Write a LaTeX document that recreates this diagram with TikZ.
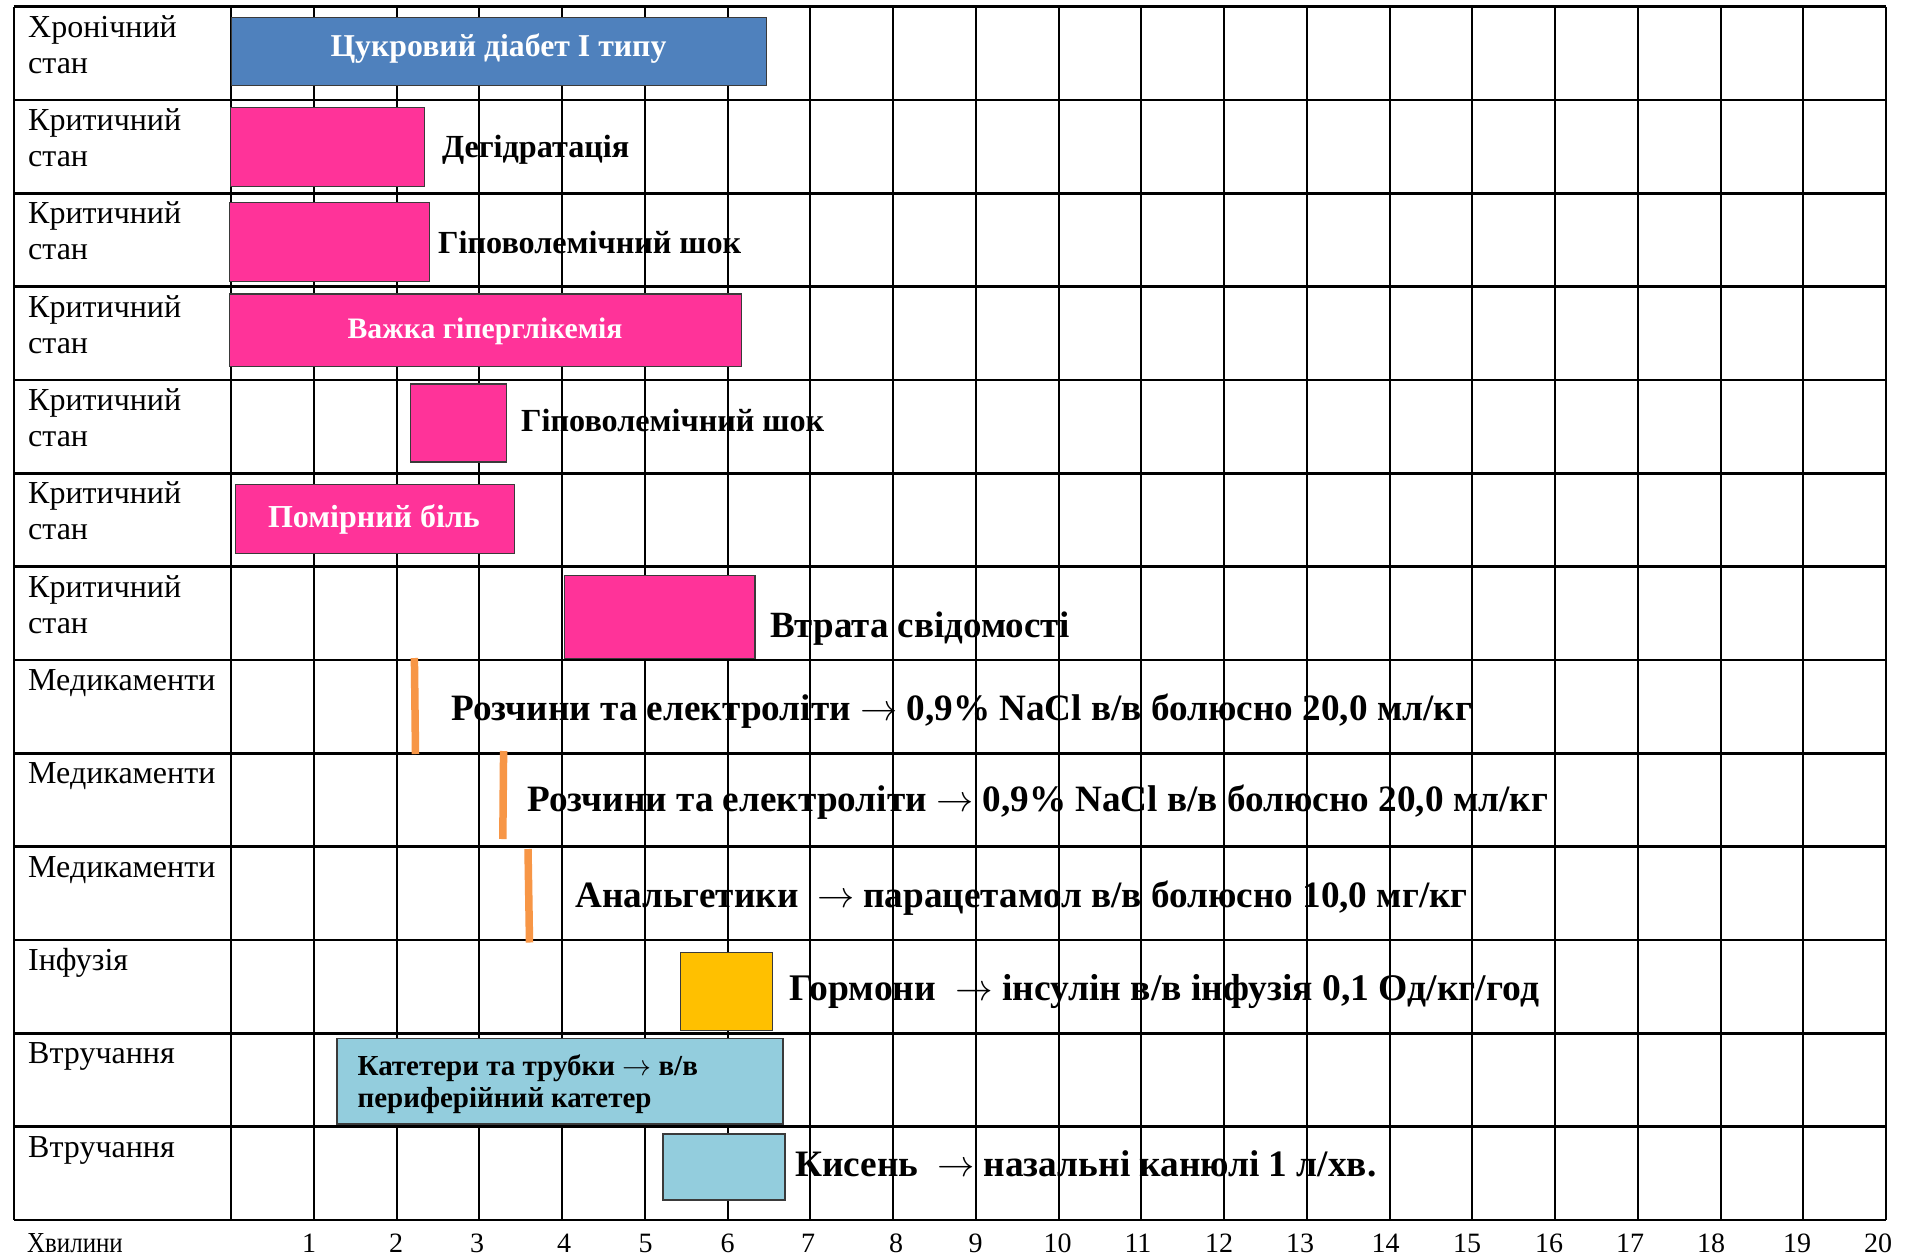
\RequirePackage{fix-cm}
\documentclass[tikz,border=0pt]{standalone}
\usepackage{fontspec}
\setmainfont{Liberation Serif}
\definecolor{pinkbar}{HTML}{FF3399}
\definecolor{bluebar}{HTML}{4F81BD}
\definecolor{yellowbar}{HTML}{FFC000}
\definecolor{lightbar}{HTML}{93CDDD}
\definecolor{orangeln}{HTML}{F79646}
\definecolor{barborder}{HTML}{3A3A3A}
\newcommand\myarr{$\rightarrow$}
\tikzset{
  hline/.style={line width=2.6pt, black},
  vline/.style={line width=2pt, black},
  bar/.style={draw=barborder, line width=1.4pt, inner sep=0pt, anchor=north west},
  lbl/.style={anchor=base west, inner sep=0pt, font=\fontsize{32}{37}\selectfont},
  rowtxt/.style={anchor=base west, inner sep=0pt, font=\fontsize{37.2}{40}\selectfont\bfseries},
  midtxt/.style={anchor=base west, inner sep=0pt, font=\fontsize{32.2}{38}\selectfont\bfseries},
  bartxt/.style={anchor=base, inner sep=0pt, text=white, font=\fontsize{31.8}{36}\selectfont\bfseries},
  axis/.style={anchor=base, inner sep=0pt, font=\fontsize{28}{34}\selectfont},
  med/.style={line width=7.5pt, orangeln}
}
\begin{document}
\begin{tikzpicture}[x=1pt,y=-1pt]
\useasboundingbox (0,0) rectangle (1917,1256);
\fill[white] (0,0) rectangle (1917,1256);
% grid
\foreach \i in {0,...,20} { \draw[vline] ({231+82.75*\i},6.5) -- ({231+82.75*\i},1220); }
\draw[vline] (13.5,6.5) -- (13.5,1220);
\foreach \j in {0,...,13} { \draw[hline] (13.5,{6.5+93.35*\j}) -- (1886,{6.5+93.35*\j}); }
% row labels
\node[lbl] (l1a) at (28,37) {Хронічний};
\node[lbl] (l1b) at (28,73) {стан};
\foreach \j/\n in {1/2,2/3,3/4,4/5,5/6,6/7} {
  \node[lbl] (l\n a) at (28,{37+93.35*\j}) {Критичний};
  \node[lbl] (l\n b) at (28,{73+93.35*\j}) {стан};
}
\node[lbl] (l8) at (28,{37+93.35*7}) {Медикаменти};
\node[lbl] (l9) at (28,{37+93.35*8}) {Медикаменти};
\node[lbl] (l10) at (28,{37+93.35*9}) {Медикаменти};
\node[lbl] (l11) at (28,{37+93.35*10}) {Інфузія};
\node[lbl] (l12) at (28,{37+93.35*11}) {Втручання};
\node[lbl] (l13) at (28,{37+93.35*12}) {Втручання};
% axis
\node[lbl, font=\fontsize{29}{34}\selectfont] (ax) at (27,1252) {\scalebox{0.86}[1]{Хвилини}};
\foreach \i/\xx in {1/309,2/396,3/477,4/564,5/645.5,6/727.5,7/808,8/896,9/975.6,10/1057.5,11/1138,12/1219,13/1300,14/1385.6,15/1467,16/1549,17/1630,18/1711,19/1797,20/1878} {
  \node[axis] (n\i) at (\xx,1252) {\i};
}
% bars
\node[bar, fill=bluebar, minimum width=535pt, minimum height=68pt] (b1) at (231,16.5) {};
\node[bartxt] (t1) at (498.5,56.5) {Цукровий діабет І типу};
\node[bar, fill=pinkbar, minimum width=194pt, minimum height=79pt] (b2) at (230,107) {};
\node[midtxt] (t2) at (442,157) {Дегідратація};
\node[bar, fill=pinkbar, minimum width=200pt, minimum height=79pt] (b3) at (228.5,201.5) {};
\node[midtxt] (t3) at (438,253) {Гіповолемічний шок};
\node[bar, fill=pinkbar, minimum width=512pt, minimum height=72.5pt] (b4) at (229,293.3) {};
\node[bartxt, font=\fontsize{29.7}{36}\selectfont\bfseries] (t4) at (485,338) {Важка гіперглікемія};
\node[bar, fill=pinkbar, minimum width=96pt, minimum height=78pt] (b5) at (410,383.3) {};
\node[midtxt] (t5) at (521,431.5) {Гіповолемічний шок};
\node[bar, fill=pinkbar, minimum width=278.5pt, minimum height=69pt] (b6) at (235,484) {};
\node[bartxt, font=\fontsize{32}{36}\selectfont\bfseries] (t6) at (374,527) {Помірний біль};
\node[bar, fill=pinkbar, minimum width=190.5pt, minimum height=82.5pt] (b7) at (563.6,575) {};
\node[rowtxt, font=\fontsize{37}{40}\selectfont\bfseries] (t7) at (770,637.3) {Втрата свідомості};
% medication markers
\coordinate (m8a) at (414.4,658); \coordinate (m8b) at (415.5,754);
\draw[med] (m8a) -- (m8b);
\node[rowtxt] (t8) at (451,720) {Розчини та електроліти \myarr{} 0,9\% NaCl в/в болюсно 20,0 мл/кг};
\coordinate (m9a) at (503.6,751); \coordinate (m9b) at (502.8,839);
\draw[med] (m9a) -- (m9b);
\node[rowtxt] (t9) at (527,811.5) {Розчини та електроліти \myarr{} 0,9\% NaCl в/в болюсно 20,0 мл/кг};
\coordinate (m10a) at (528,849); \coordinate (m10b) at (529.5,942.5);
\draw[med] (m10a) -- (m10b);
\node[rowtxt] (t10) at (575,907) {Анальгетики\ \ \myarr{} парацетамол в/в болюсно 10,0 мг/кг};
\node[bar, fill=yellowbar, minimum width=92pt, minimum height=78.5pt] (b11) at (680,951.5) {};
\node[rowtxt, font=\fontsize{37.6}{40}\selectfont\bfseries] (t11) at (789,1000.5) {Гормони\ \ \myarr{} інсулін в/в інфузія 0,1 Од/кг/год};
\node[bar, fill=lightbar, minimum width=446pt, minimum height=85.5pt] (b12) at (336.4,1037.7) {};
\node[rowtxt, font=\fontsize{29}{32}\selectfont\bfseries] (t12a) at (357.4,1075) {Катетери та трубки \myarr{} в/в};
\node[rowtxt, font=\fontsize{29}{32}\selectfont\bfseries] (t12b) at (357.4,1107) {периферійний катетер};
\node[bar, fill=lightbar, minimum width=122pt, minimum height=66pt] (b13) at (662.3,1133.3) {};
\node[rowtxt, font=\fontsize{37.3}{40}\selectfont\bfseries] (t13) at (795,1176.7) {Кисень\ \ \myarr{} назальні канюлі 1 л/хв.};
\end{tikzpicture}
\end{document}
